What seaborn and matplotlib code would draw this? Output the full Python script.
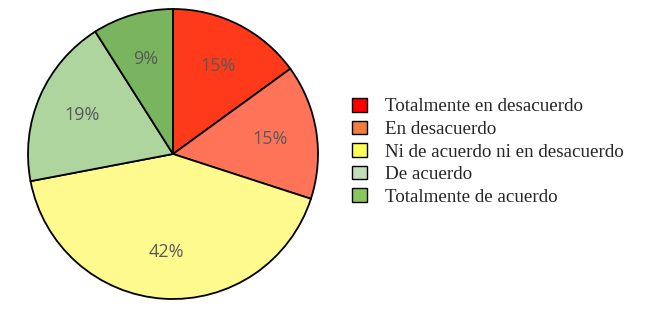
import matplotlib
matplotlib.use("Agg")
import matplotlib.pyplot as plt
from matplotlib.patches import Patch
import seaborn as sns

categories = ["Totalmente en desacuerdo", "En desacuerdo",
              "Ni de acuerdo ni en desacuerdo", "De acuerdo",
              "Totalmente de acuerdo"]
values = [15, 15, 42, 19, 9]
pie_colors = ["#FF3A1A", "#FF7458", "#FFFA8E", "#AED59D", "#78B55E"]
legend_colors = ["#FF0000", "#F07C40", "#FFFF55", "#C2DEBA", "#88C65E"]

sns.set_theme(style="white")
plt.rcParams['font.family'] = ['Open Sans', 'DejaVu Sans']

fig = plt.figure(figsize=(6.46, 3.09), dpi=100)
# pie axes: 300x300 px box centred on (173, 155) px from bottom-left
ax = fig.add_axes([(173 - 150) / 646, (155 - 150) / 309, 300 / 646, 300 / 309])

wedges, texts, autotexts = ax.pie(
    values, colors=pie_colors, startangle=90, counterclock=False,
    autopct=lambda p: f"{p:.0f}%", pctdistance=0.68,
    wedgeprops=dict(edgecolor="black", linewidth=1.3),
    textprops=dict(color="#595959", fontsize=13),
)
lim = 150 / 145
ax.set_xlim(-lim, lim)
ax.set_ylim(-lim, lim)

handles = [Patch(facecolor=c, edgecolor="black", linewidth=1.0) for c in legend_colors]
fig.legend(handles, categories, loc="upper left",
           bbox_to_anchor=(352 / 646, 1 - 98 / 309), frameon=False,
           prop=dict(family="Liberation Serif", size=13.7),
           handlelength=0.78, handleheight=0.72, handletextpad=0.95,
           labelspacing=0.27, borderpad=0, borderaxespad=0)

fig.savefig("out.png", dpi=100)
